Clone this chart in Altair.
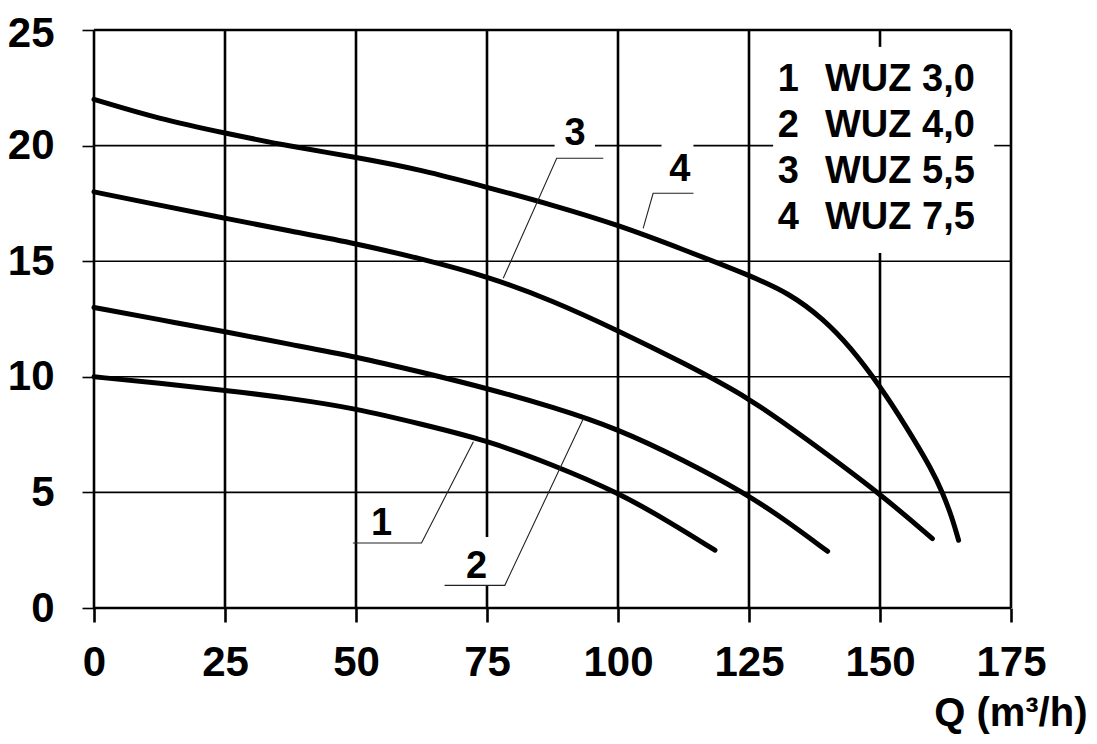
import altair as alt
import pandas as pd

# ---- pump curves (Q in m3/h, H in m) ----
q1 = [0, 12.5, 25, 37.5, 50, 62.5, 75, 87.5, 100, 110, 118.5]
h1 = [10, 9.72, 9.42, 9.07, 8.63, 7.95, 7.25, 6.2, 5.0, 3.7, 2.5]
q2 = [0, 12.5, 25, 37.5, 50, 62.5, 75, 87.5, 100, 112.5, 124, 132, 140]
h2 = [13, 12.47, 11.95, 11.4, 10.87, 10.2, 9.5, 8.7, 7.75, 6.4, 5.0, 3.8, 2.45]
q3 = [0, 12.5, 25, 37.5, 50, 62.5, 75, 87.5, 100, 112.5, 125, 136, 150, 160]
h3 = [18, 17.42, 16.86, 16.3, 15.77, 15.1, 14.35, 13.3, 12.0, 10.6, 9.1, 7.3, 4.95, 3.0]
q4 = [0, 12.5, 25, 37.5, 50, 62.5, 75, 87.5, 100, 112.5, 125, 132.8, 139.2,
      144.3, 150, 155, 160, 162, 163.7, 165]
h4 = [22, 21.15, 20.54, 19.96, 19.5, 18.95, 18.2, 17.43, 16.57, 15.5, 14.4, 13.6,
      12.5, 11.3, 9.6, 7.85, 5.95, 4.95, 3.95, 2.93]

# ---- legend ----
legend_num = ["1", "2", "3", "4"]
legend_name = ["WUZ 3,0", "WUZ 4,0", "WUZ 5,5", "WUZ 7,5"]
legend_h = [22.84, 20.85, 18.86, 16.87]
legend_q_num = 130.5
legend_q_name = 139.5

# ---- curve labels and leader lines ----
label_text = ["1", "2", "3", "4"]
label_q = [54.9, 73.0, 91.8, 111.8]
label_h = [3.65, 1.78, 20.5, 18.95]
leader_id = [1, 1, 1, 2, 2, 2, 3, 3, 3, 4, 4, 4]
leader_q = [49.4, 62.5, 72.4, 66.9, 78.4, 93.4, 97.2, 88.3, 78.1, 114.4, 106.7, 104.8]
leader_h = [2.81, 2.81, 7.19, 0.98, 0.98, 8.2, 19.45, 19.45, 14.26, 17.94, 17.94, 16.42]

# ---- grid (vertical lines, with gaps) ----
vq = [0, 25, 50, 75, 75, 100, 125, 150, 150, 175]
vh1 = [0, 0, 0, 0, 3.07, 0, 0, 0, 24.27, 0]
vh2 = [25, 25, 25, 0.98, 25, 25, 25, 15.35, 25, 25]
# ---- grid (horizontal lines, with gaps) ----
hh = [5, 10, 15, 20, 20, 20, 20]
hq1 = [0, 0, 0, 0, 95.6, 114.4, 171.8]
hq2 = [175, 175, 175, 87.9, 108.3, 129.6, 175]
frame_h = [0, 25]

x_ticks = [0, 25, 50, 75, 100, 125, 150, 175]
y_ticks = [0, 5, 10, 15, 20, 25]

FONT = "Liberation Sans"

curves = pd.concat([
    pd.DataFrame({"q": q1, "h": h1, "s": "1"}),
    pd.DataFrame({"q": q2, "h": h2, "s": "2"}),
    pd.DataFrame({"q": q3, "h": h3, "s": "3"}),
    pd.DataFrame({"q": q4, "h": h4, "s": "4"}),
], ignore_index=True)

xs = alt.Scale(domain=[0, 175], nice=False, zero=False)
ys = alt.Scale(domain=[0, 25], nice=False, zero=False)

x_axis = alt.Axis(
    values=x_ticks, format="d", grid=False, domain=False,
    tickSize=14, tickWidth=2.6, tickColor="#000",
    labelFont=FONT, labelFontSize=42, labelFontWeight="bold", labelColor="#000",
    labelPadding=20, labelFlush=False, labelOverlap=False,
    title="Q (m³/h)", titleFont=FONT, titleFontSize=40, titleFontWeight="bold",
    titleColor="#000", titleAlign="right", titleBaseline="alphabetic",
    titleX=993, titleY=117,
)
y_axis = alt.Axis(
    values=y_ticks, format="d", grid=False, domain=False,
    tickSize=12, tickWidth=1.6, tickColor="#000",
    labelFont=FONT, labelFontSize=42, labelFontWeight="bold", labelColor="#000",
    labelPadding=28, labelFlush=False, labelOverlap=False, labelBaseline="middle",
    labelOffset={"condition": {"test": "datum.value == 25", "value": 3}, "value": 0},
    title=None,
)

lines = alt.Chart(curves).mark_line(
    color="#000", strokeWidth=5, interpolate="basis", strokeCap="round"
).encode(
    x=alt.X("q:Q", scale=xs, axis=x_axis),
    y=alt.Y("h:Q", scale=ys, axis=y_axis),
    detail="s:N",
)

vdf = pd.DataFrame({"q": vq, "h1": vh1, "h2": vh2})
hdf = pd.DataFrame({"h": hh, "q1": hq1, "q2": hq2})
fdf = pd.DataFrame({"h": frame_h, "q1": [0, 0], "q2": [175, 175]})

vgrid = alt.Chart(vdf).mark_rule(color="#000", strokeWidth=2.6).encode(
    x=alt.X("q:Q", scale=xs),
    y=alt.Y("h1:Q", scale=ys),
    y2="h2:Q",
)
hgrid = alt.Chart(hdf).mark_rule(color="#000", strokeWidth=1.6).encode(
    y=alt.Y("h:Q", scale=ys),
    x=alt.X("q1:Q", scale=xs),
    x2="q2:Q",
)
frame = alt.Chart(fdf).mark_rule(color="#000", strokeWidth=2.4).encode(
    y=alt.Y("h:Q", scale=ys),
    x=alt.X("q1:Q", scale=xs),
    x2="q2:Q",
)

ldf = pd.DataFrame({"id": leader_id, "q": leader_q, "h": leader_h,
                    "o": list(range(len(leader_q)))})
leaders = alt.Chart(ldf).mark_line(color="#222", strokeWidth=1.1).encode(
    x=alt.X("q:Q", scale=xs),
    y=alt.Y("h:Q", scale=ys),
    detail="id:N",
    order="o:Q",
)

labdf = pd.DataFrame({"t": label_text, "q": label_q, "h": label_h})
labels = alt.Chart(labdf).mark_text(
    font=FONT, fontSize=38, fontWeight="bold", color="#000",
    align="center", baseline="middle"
).encode(
    x=alt.X("q:Q", scale=xs),
    y=alt.Y("h:Q", scale=ys),
    text="t:N",
)

legdf = pd.DataFrame({"n": legend_num, "name": legend_name, "h": legend_h,
                      "qn": [legend_q_num] * 4, "qm": [legend_q_name] * 4})
leg_num = alt.Chart(legdf).mark_text(
    font=FONT, fontSize=38, fontWeight="bold", color="#000",
    align="left", baseline="middle"
).encode(
    x=alt.X("qn:Q", scale=xs),
    y=alt.Y("h:Q", scale=ys),
    text="n:N",
)
leg_name = alt.Chart(legdf).mark_text(
    font=FONT, fontSize=38, fontWeight="bold", color="#000",
    align="left", baseline="middle"
).encode(
    x=alt.X("qm:Q", scale=xs),
    y=alt.Y("h:Q", scale=ys),
    text="name:N",
)

chart = alt.layer(
    lines, hgrid, vgrid, frame, leaders, labels, leg_num, leg_name
).properties(
    width=917, height=578,
    autosize=alt.AutoSizeParams(type="none"),
    padding={"left": 86, "top": 22, "right": 78, "bottom": 128},
    background="white",
).configure_view(strokeWidth=0)

chart.save("out.html", embed_options={"renderer": "svg", "actions": False})
